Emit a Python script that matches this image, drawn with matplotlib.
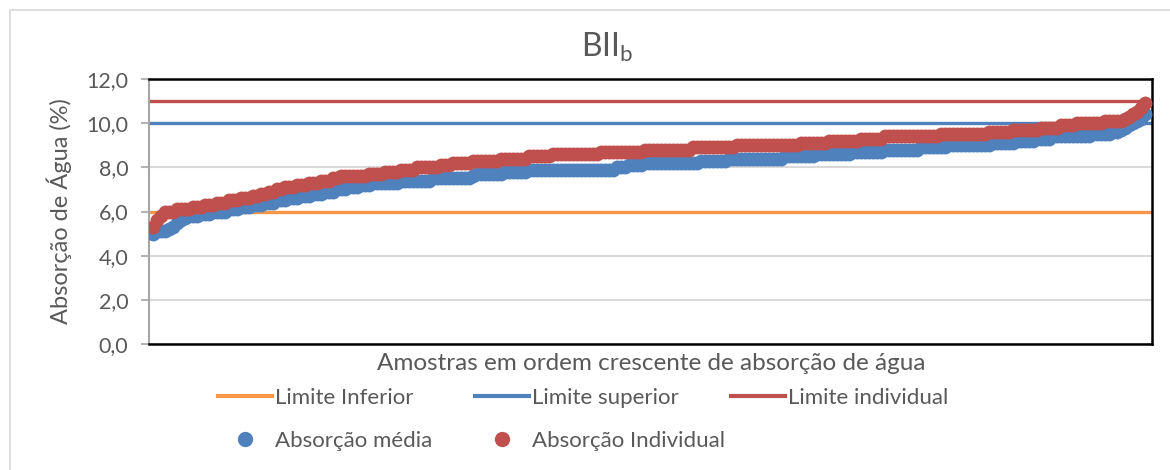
import matplotlib
matplotlib.use("Agg")
import matplotlib.pyplot as plt
from matplotlib.lines import Line2D
from matplotlib.patches import Rectangle
from matplotlib.ticker import FuncFormatter
import numpy as np

# ---- data (run-length encoded sorted values) ----
media_levels = [5.0, 5.1, 5.2, 5.3, 5.5, 5.6, 5.7, 5.8, 5.9, 6.0, 6.1, 6.2, 6.3, 6.4,
                6.5, 6.6, 6.7, 6.8, 6.9, 7.0, 7.1, 7.2, 7.3, 7.4, 7.5, 7.6, 7.7, 7.8,
                7.9, 8.0, 8.1, 8.2, 8.3, 8.4, 8.5, 8.6, 8.7, 8.8, 8.9, 9.0, 9.1, 9.2,
                9.3, 9.4, 9.5, 9.6, 9.7, 9.8, 9.9, 10.0, 10.1, 10.2, 10.4]
media_counts = [1, 3, 1, 1, 1, 1, 1, 3, 3, 4, 3, 3, 3, 3,
                3, 3, 3, 3, 3, 3, 3, 3, 7, 8, 10, 1, 7, 6,
                22, 3, 4, 14, 7, 14, 8, 9, 8, 9, 7, 11, 6, 5,
                4, 10, 5, 2, 1, 1, 1, 1, 1, 1, 1]

indiv_levels = [5.3, 5.6, 5.8, 6.0, 6.1, 6.2, 6.3, 6.4, 6.5, 6.6, 6.7, 6.8, 6.9,
                7.0, 7.1, 7.2, 7.3, 7.4, 7.5, 7.6, 7.7, 7.8, 7.9, 8.0, 8.1, 8.2,
                8.3, 8.4, 8.5, 8.6, 8.7, 8.8, 8.9, 9.0, 9.1, 9.2, 9.3, 9.4, 9.5,
                9.6, 9.7, 9.8, 9.9, 10.0, 10.1, 10.2, 10.3, 10.4, 10.5, 10.7, 10.9]
indiv_counts = [1, 1, 1, 3, 4, 3, 3, 3, 3, 3, 2, 2, 2,
                2, 3, 3, 3, 3, 2, 7, 4, 4, 4, 6, 3, 5,
                7, 7, 6, 12, 11, 12, 11, 16, 7, 8, 6, 14, 12,
                6, 7, 5, 4, 7, 5, 1, 1, 1, 1, 1, 1]

limite_inferior = 6.0
limite_superior = 10.0
limite_individual = 11.0

yticks = [0, 2, 4, 6, 8, 10, 12]

title_text = r"BII$_\mathregular{b}$"
ylabel_text = "Absorção de Água (%)"
xlabel_text = "Amostras em ordem crescente de absorção de água"
legend_labels = ["Limite Inferior", "Limite superior", "Limite individual",
                 "Absorção média", "Absorção Individual"]

# ---- build series ----
media = np.repeat(media_levels, media_counts)
indiv = np.repeat(indiv_levels, indiv_counts)
x_media = np.arange(1, len(media) + 1)
x_indiv = np.arange(1, len(indiv) + 1)

ORANGE = "#F79646"
BLUE = "#4F81BD"
RED = "#C0504D"
TXT = "#595959"

plt.rcParams["font.family"] = ["Lato", "DejaVu Sans"]

W, H = 1170, 470
fig = plt.figure(figsize=(W / 100, H / 100), dpi=100)

# outer chart border (only left/top visible in reference)
fig.patches.append(Rectangle((10 / W, -0.1), 1.2, (H - 10) / H + 0.1,
                             transform=fig.transFigure, fill=False,
                             edgecolor="#D9D9D9", linewidth=1.2))

ax = fig.add_axes([149 / W, (H - 344) / H, (1152 - 149) / W, (344 - 79) / H])

ax.set_xlim(0, 250.75)
ax.set_ylim(0, 12)
ax.set_yticks(yticks)
ax.yaxis.set_major_formatter(FuncFormatter(lambda v, p: f"{v:.1f}".replace(".", ",")))
ax.set_xticks([])
ax.grid(axis="y", color="#D9D9D9", linewidth=1.5, zorder=0)

ax.axhline(limite_inferior, color=ORANGE, linewidth=2.4, zorder=2)
ax.axhline(limite_superior, color=BLUE, linewidth=2.4, zorder=2)
ax.axhline(limite_individual, color=RED, linewidth=2.4, zorder=2)

ax.scatter(x_media, media, s=100, color=BLUE, linewidths=0, zorder=3)
ax.scatter(x_indiv, indiv, s=100, color=RED, linewidths=0, zorder=4)

for side in ["top", "right", "bottom"]:
    ax.spines[side].set_color("black")
    ax.spines[side].set_linewidth(1.8)
ax.spines["left"].set_color("#A6A6A6")
ax.spines["left"].set_linewidth(1.5)
ax.tick_params(axis="y", colors="#A6A6A6", length=6, width=1.2, labelcolor=TXT,
               labelsize=15.5, pad=9)

fig.text(607 / W, 1 - 57 / H, title_text, fontsize=23, color=TXT,
         ha="center", va="baseline")
ax.set_ylabel(ylabel_text, fontsize=17, color=TXT, labelpad=10)
fig.text(651 / W, 1 - 363 / H, xlabel_text, fontsize=17.5, color=TXT,
         ha="center", va="center")

line_handles = [Line2D([], [], color=c, lw=3) for c in (ORANGE, BLUE, RED)]
mark_handles = [Line2D([], [], color=c, marker="o", linestyle="none", markersize=10)
                for c in (BLUE, RED)]
col_x = [218, 475, 731]
FS = 16
for j in range(3):
    hs = [line_handles[j]]
    ls = [legend_labels[j]]
    if j < 2:
        hs.append(mark_handles[j])
        ls.append(legend_labels[3 + j])
    fig.legend(hs, ls, loc="upper left", bbox_to_anchor=(col_x[j] / W, 1 - 388 / H),
               frameon=False, fontsize=FS, handlelength=54 / (FS * 100 / 72),
               handletextpad=0.15, borderpad=0, borderaxespad=0,
               labelspacing=1.03, labelcolor=TXT)

fig.savefig("out.png", dpi=100)
